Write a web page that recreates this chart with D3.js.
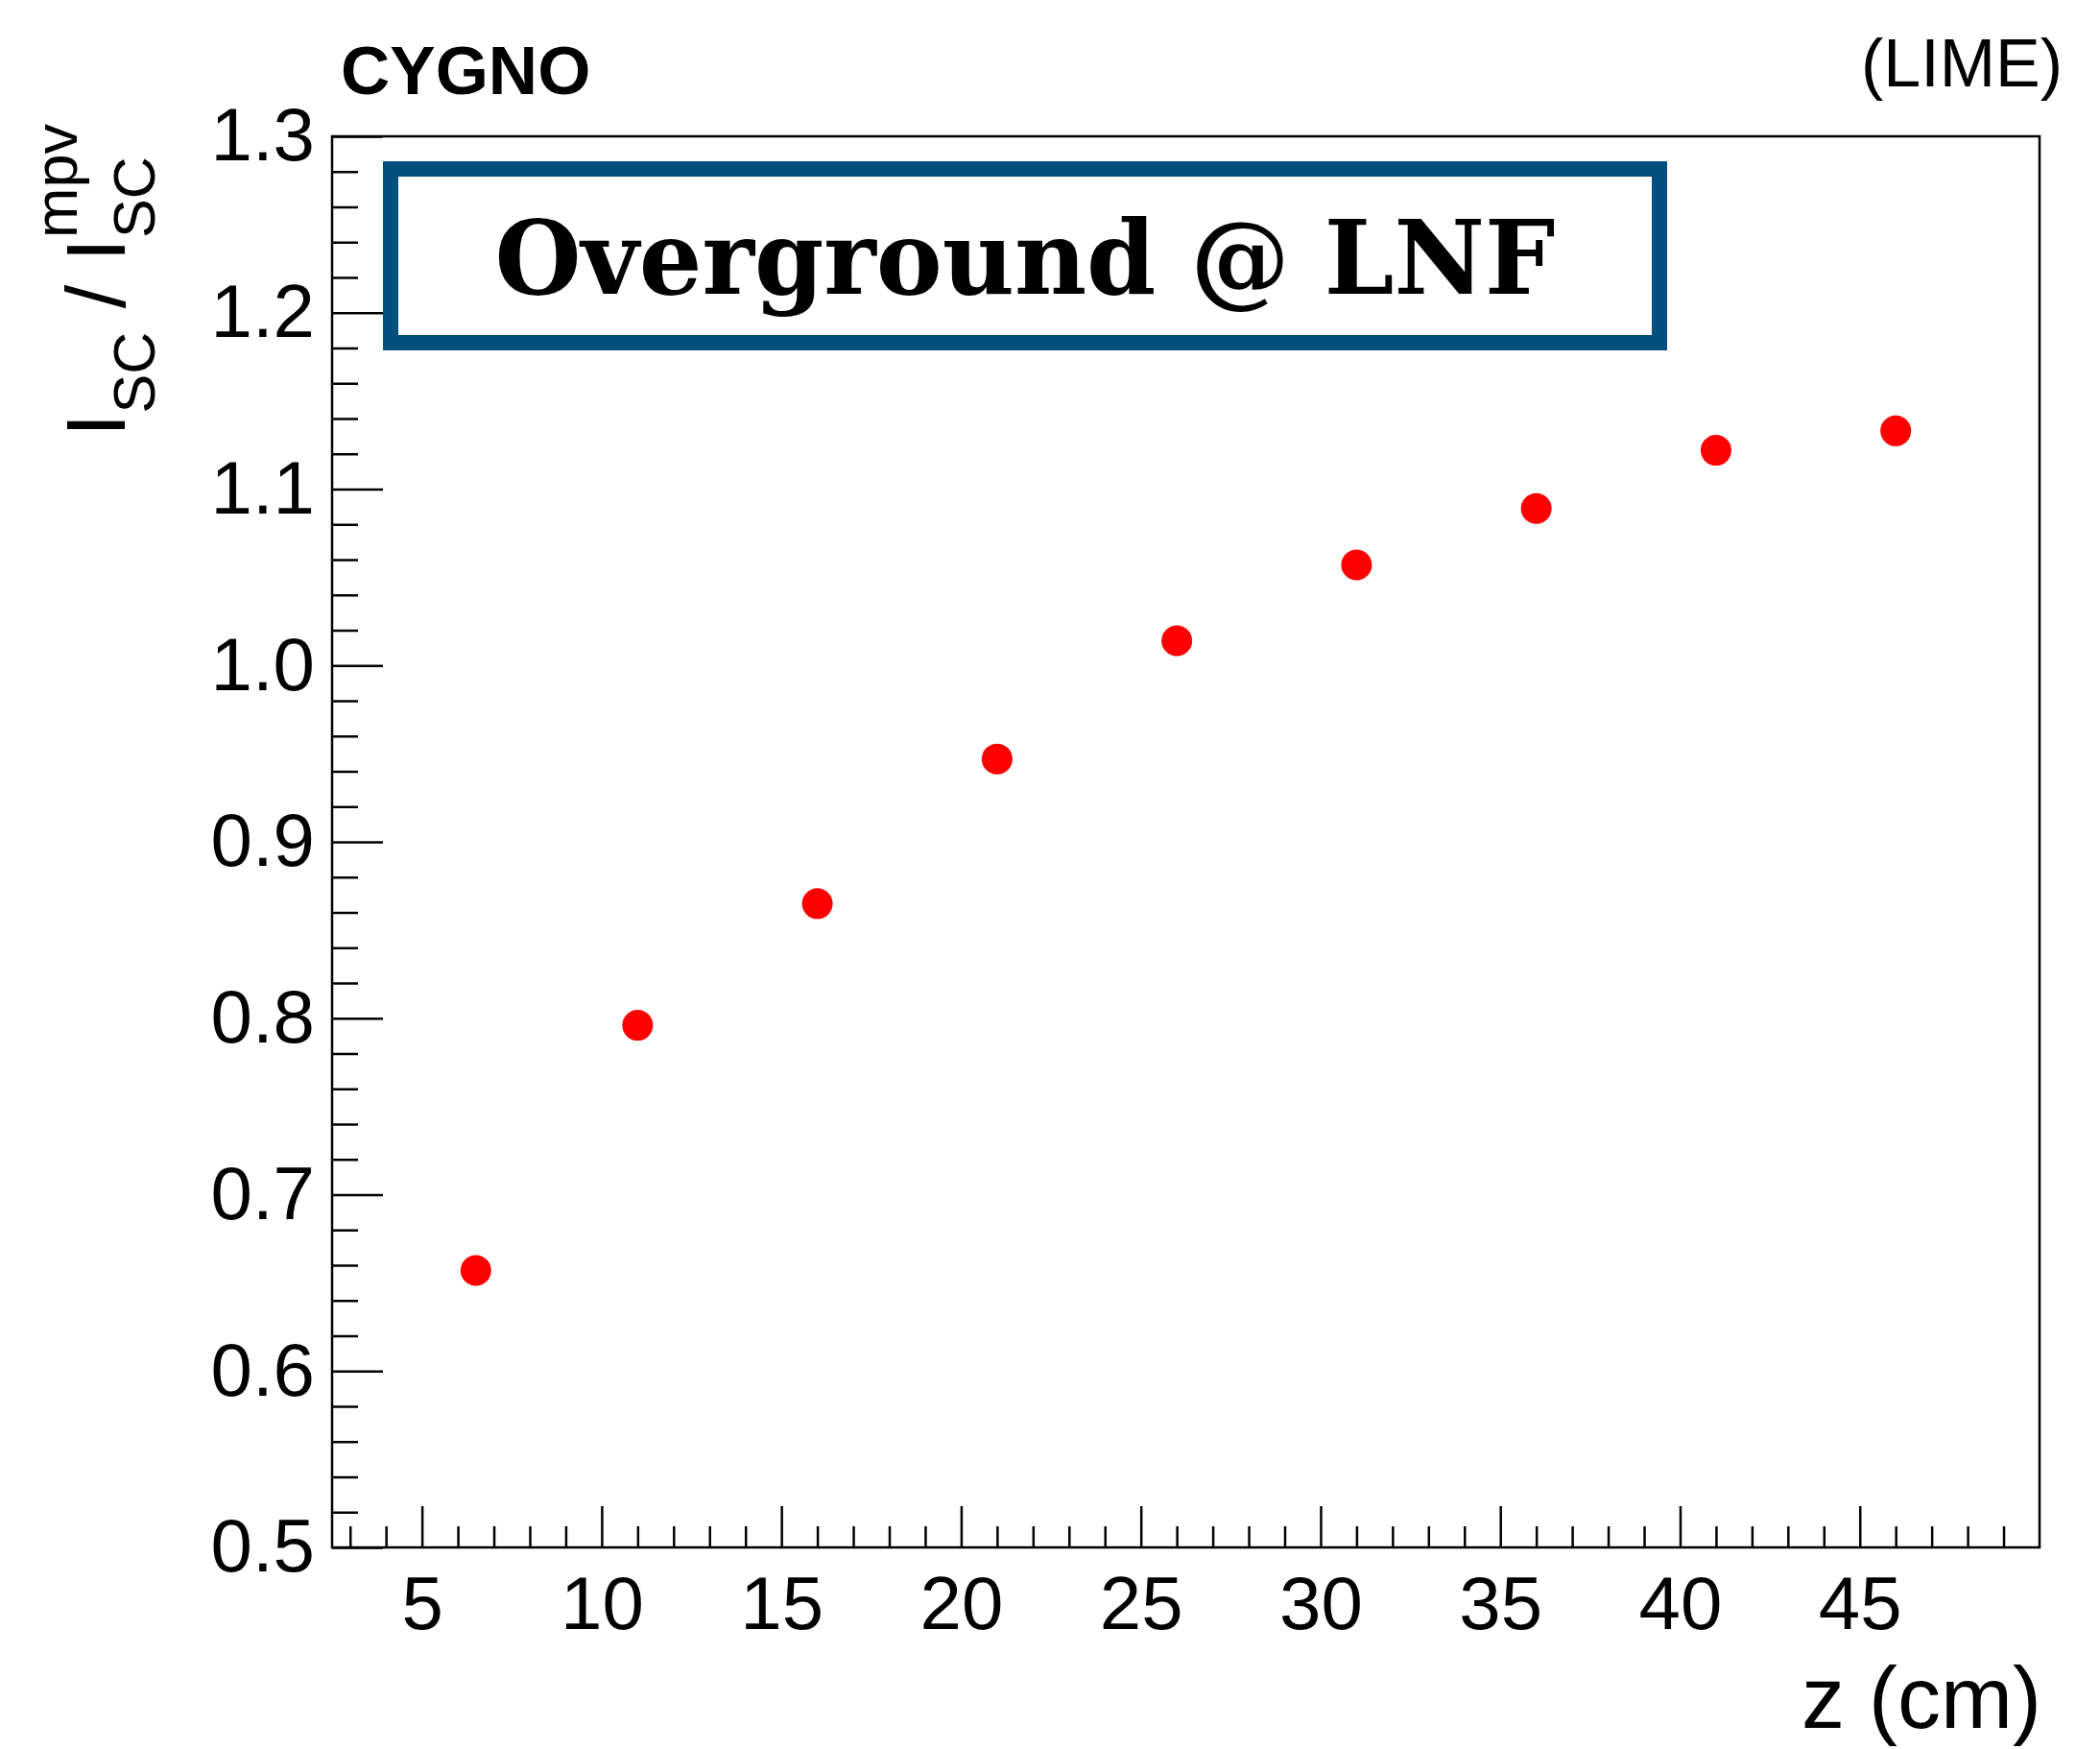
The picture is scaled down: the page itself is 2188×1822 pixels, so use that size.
<!DOCTYPE html>
<html>
<head>
<meta charset="utf-8">
<script src="https://cdn.jsdelivr.net/npm/d3@7"></script>
<style>
  html, body { margin: 0; padding: 0; background: #ffffff; }
  svg { display: block; }
</style>
</head>
<body>
<svg id="chart" width="2188" height="1822"></svg>
<script>
// Drift position z (cm) of each measurement
const zPositions = [6.5, 11, 16, 21, 26, 31, 36, 41, 46];
// Normalised light yield I_SC / I_SC^mpv at each z
const ratioValues = [0.657, 0.796, 0.865, 0.947, 1.014, 1.057, 1.089, 1.122, 1.133];

// Axis ranges and labelled ticks
const xRange = [2.5, 50];
const yRange = [0.5, 1.3];
const xTickValues = [5, 10, 15, 20, 25, 30, 35, 40, 45];
const yTickValues = [0.5, 0.6, 0.7, 0.8, 0.9, 1.0, 1.1, 1.2, 1.3];
const yTickLabels = ["0.5", "0.6", "0.7", "0.8", "0.9", "1.0", "1.1", "1.2", "1.3"];

const sans = "'Liberation Sans', Arial, Helvetica, sans-serif";
const frame = { left: 346, right: 2125, top: 142, bottom: 1612 };

const svg = d3.select("#chart");
svg.append("rect").attr("width", 2188).attr("height", 1822).attr("fill", "#ffffff");

const x = d3.scaleLinear().domain(xRange).range([frame.left, frame.right]);
const y = d3.scaleLinear().domain(yRange).range([frame.bottom, frame.top]);

// minor tick positions (every 1 cm on x, every 0.02 on y), skipping the major ones
const xMinor = d3.range(3, 50, 1).filter(v => v % 5 !== 0);
const yMinor = d3.range(0, 41).map(i => +(0.5 + i * 0.02).toFixed(2))
  .filter(v => Math.abs(v * 10 - Math.round(v * 10)) > 1e-6);

function styleAxis(g) {
  g.select(".domain").remove();
  g.selectAll(".tick line").attr("stroke", "#000").attr("stroke-width", 2.5);
  g.selectAll(".tick text").attr("fill", "#000").attr("font-family", sans).attr("font-size", 78);
}

// x axis: minor then major ticks pointing into the plot
svg.append("g").attr("transform", `translate(0,${frame.bottom})`)
  .call(d3.axisBottom(x).tickValues(xMinor).tickSize(-22).tickFormat(""))
  .call(styleAxis);
svg.append("g").attr("transform", `translate(0,${frame.bottom})`)
  .call(d3.axisBottom(x).tickValues(xTickValues).tickSize(-43).tickPadding(30).tickFormat(d3.format("d")))
  .call(styleAxis);

// y axis
svg.append("g").attr("transform", `translate(${frame.left},0)`)
  .call(d3.axisLeft(y).tickValues(yMinor).tickSize(-27).tickFormat(""))
  .call(styleAxis);
svg.append("g").attr("transform", `translate(${frame.left},0)`)
  .call(d3.axisLeft(y).tickValues(yTickValues).tickSize(-53).tickPadding(18)
    .tickFormat((d, i) => yTickLabels[i]))
  .call(styleAxis);

// plot frame
svg.append("rect")
  .attr("x", frame.left).attr("y", frame.top)
  .attr("width", frame.right - frame.left).attr("height", frame.bottom - frame.top)
  .attr("fill", "none").attr("stroke", "#000").attr("stroke-width", 2.5);

// label box
const box = { x0: 407, x1: 1729, y0: 176, y1: 357 };
svg.append("rect")
  .attr("x", box.x0).attr("y", box.y0)
  .attr("width", box.x1 - box.x0).attr("height", box.y1 - box.y0)
  .attr("fill", "#ffffff").attr("stroke", "#03507f").attr("stroke-width", 16);
svg.append("text")
  .attr("x", (box.x0 + box.x1) / 2).attr("y", 306)
  .attr("text-anchor", "middle")
  .attr("font-family", "'DejaVu Serif', serif").attr("font-weight", "bold").attr("font-size", 106)
  .attr("textLength", 1105).attr("lengthAdjust", "spacingAndGlyphs")
  .attr("fill", "#000")
  .text("Overground @ LNF");

// data points
svg.append("g").selectAll("circle")
  .data(zPositions.map((z, i) => ({ z, r: ratioValues[i] })))
  .join("circle")
  .attr("cx", d => x(d.z)).attr("cy", d => y(d.r))
  .attr("r", 16).attr("fill", "#ff0000");

// header texts
svg.append("text")
  .attr("x", 355).attr("y", 98)
  .attr("font-family", sans).attr("font-weight", "bold").attr("font-size", 71)
  .attr("fill", "#000").text("CYGNO");
svg.append("text")
  .attr("x", 2149).attr("y", 90).attr("text-anchor", "end")
  .attr("font-family", sans).attr("font-size", 70)
  .attr("fill", "#000").text("(LIME)");

// x axis title
svg.append("text")
  .attr("x", frame.right + 2).attr("y", 1800).attr("text-anchor", "end")
  .attr("font-family", sans).attr("font-size", 90)
  .attr("fill", "#000").text("z (cm)");

// y axis title: I_SC / I_SC^mpv, rotated
const yTitle = svg.append("g").attr("transform", "translate(130,455) rotate(-90)");
const titleText = yTitle.append("text")
  .attr("x", 0).attr("y", 0)
  .attr("font-family", sans).attr("fill", "#000");
titleText.append("tspan").attr("font-size", 88).text("I");
titleText.append("tspan").attr("font-size", 61).attr("dy", 31).text("SC");
titleText.append("tspan").attr("font-size", 88).attr("dy", -31).text(" / I");
titleText.append("tspan").attr("font-size", 61).attr("dy", 31).text("SC");
// the superscript starts where the last subscript starts
const subStart = titleText.node().getStartPositionOfChar(titleText.node().textContent.length - 2).x;
yTitle.append("text")
  .attr("x", subStart).attr("y", -50)
  .attr("font-family", sans).attr("font-size", 63).attr("fill", "#000")
  .text("mpv");
</script>
</body>
</html>
